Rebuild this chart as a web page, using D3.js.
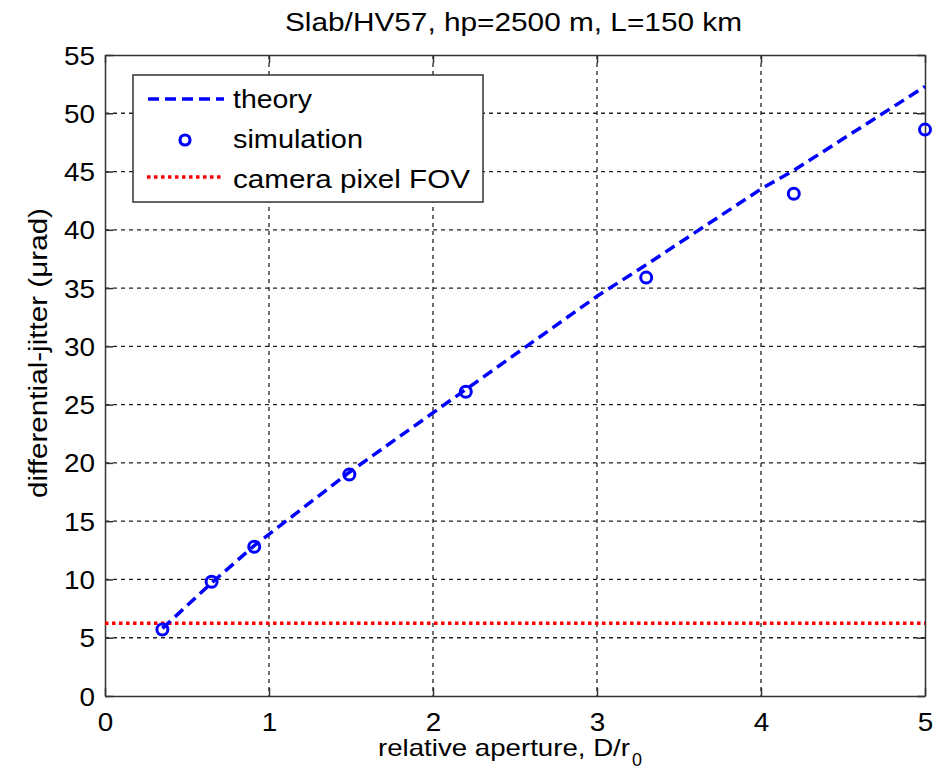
<!DOCTYPE html>
<html><head><meta charset="utf-8">
<script src="https://cdn.jsdelivr.net/npm/d3@7"></script>
<style>body{margin:0;background:#fff}svg{display:block}text{font-family:"Liberation Sans",Arial,sans-serif}</style>
</head><body><svg id="c" width="949" height="782"></svg>
<script>
const simX = [0.35, 0.65, 0.91, 1.49, 2.2, 3.3, 4.2, 5.0];
const simY = [5.7, 9.8, 12.8, 19.0, 26.1, 35.9, 43.1, 48.6];
const theoryX = [0.35, 0.65, 0.91, 1.49, 2.2, 3.0, 3.3, 4.0, 4.2, 5.0];
const theoryY = [5.8, 9.7, 12.9, 19.2, 26.3, 34.3, 37.0, 43.5, 45.1, 52.3];
const fovY = 6.25;
const xTicks = [0, 1, 2, 3, 4, 5];
const yTicks = [0, 5, 10, 15, 20, 25, 30, 35, 40, 45, 50, 55];
const legendLabels = ["theory", "simulation", "camera pixel FOV"];

const FF = '"Liberation Sans",Arial,sans-serif';
const svg = d3.select("#c");
const L = 105, R = 925, T = 55, B = 696;
const x = d3.scaleLinear().domain([0, 5]).range([L, R]);
const y = d3.scaleLinear().domain([0, 55]).range([B, T]);

// grid
const g = svg.append("g");
g.selectAll(".vg").data(xTicks.slice(1, -1)).enter().append("line")
  .attr("x1", d => x(d)).attr("x2", d => x(d)).attr("y1", T).attr("y2", B)
  .attr("stroke", "#222").attr("stroke-width", 1.3).attr("stroke-dasharray", "4,4");
g.selectAll(".hg").data(yTicks.slice(1, -1)).enter().append("line")
  .attr("x1", L).attr("x2", R).attr("y1", d => y(d)).attr("y2", d => y(d))
  .attr("stroke", "#222").attr("stroke-width", 1.3).attr("stroke-dasharray", "4,4");

// axes (inward ticks)
const fmt = d3.format("d");
const xb = svg.append("g").attr("transform", `translate(0,${B})`)
  .call(d3.axisBottom(x).tickValues(xTicks).tickFormat(fmt).tickSizeInner(-8).tickSizeOuter(0).tickPadding(17));
const xt = svg.append("g").attr("transform", `translate(0,${T})`)
  .call(d3.axisTop(x).tickValues(xTicks).tickSizeInner(-8).tickSizeOuter(0).tickFormat(""));
const yl = svg.append("g").attr("transform", `translate(${L},0)`)
  .call(d3.axisLeft(y).tickValues(yTicks).tickFormat(fmt).tickSizeInner(-8).tickSizeOuter(0).tickPadding(10));
const yr = svg.append("g").attr("transform", `translate(${R},0)`)
  .call(d3.axisRight(y).tickValues(yTicks).tickSizeInner(-8).tickSizeOuter(0).tickFormat(""));
[xb, xt, yl, yr].forEach(a => {
  a.attr("font-size", null).attr("font-family", null);
  a.selectAll("path").attr("stroke", "#333").attr("stroke-width", 1.5);
  a.selectAll("line").attr("stroke", "#333").attr("stroke-width", 1.5);
  a.selectAll("text").attr("font-size", 25).attr("fill", "#000")
    .style("font-family", FF)
    .attr("textLength", function () { return this.textContent.length * 15.5; })
    .attr("lengthAdjust", "spacingAndGlyphs");
});
yl.selectAll("text").attr("dy", "0.36em");
xb.selectAll("text").attr("dy", "0.71em");

// red FOV line
svg.append("line").attr("x1", L).attr("x2", R).attr("y1", y(fovY)).attr("y2", y(fovY))
  .attr("stroke", "#ff0000").attr("stroke-width", 3.5).attr("stroke-dasharray", "3.5,3.5");

// theory line
const line = d3.line().x(d => x(d[0])).y(d => y(d[1]));
svg.append("path").datum(theoryX.map((v, i) => [v, theoryY[i]])).attr("d", line)
  .attr("fill", "none").attr("stroke", "#0000ff").attr("stroke-width", 3.5).attr("stroke-dasharray", "11,6");

// simulation points
svg.selectAll(".pt").data(simX.map((v, i) => [v, simY[i]])).enter().append("circle")
  .attr("cx", d => x(d[0])).attr("cy", d => y(d[1])).attr("r", 5.5)
  .attr("fill", "none").attr("stroke", "#0000ff").attr("stroke-width", 3);

// legend
const lg = svg.append("g");
lg.append("rect").attr("x", 133).attr("y", 75).attr("width", 350).attr("height", 127)
  .attr("fill", "#fff").attr("stroke", "#333").attr("stroke-width", 1.5);
const ly = [99, 140, 177];
const lw = [79, 130, 237];
lg.append("line").attr("x1", 148).attr("x2", 224).attr("y1", ly[0]).attr("y2", ly[0])
  .attr("stroke", "#0000ff").attr("stroke-width", 3.5).attr("stroke-dasharray", "11,6");
lg.append("circle").attr("cx", 185).attr("cy", ly[1]).attr("r", 5)
  .attr("fill", "none").attr("stroke", "#0000ff").attr("stroke-width", 3.2);
lg.append("line").attr("x1", 147).attr("x2", 224).attr("y1", ly[2]).attr("y2", ly[2])
  .attr("stroke", "#ff0000").attr("stroke-width", 3.5).attr("stroke-dasharray", "3.5,3.5");
lg.selectAll(".lt").data(legendLabels).enter().append("text")
  .attr("x", 233).attr("y", (d, i) => [108, 148, 188][i]).attr("font-size", 25)
  .attr("textLength", (d, i) => lw[i]).attr("lengthAdjust", "spacingAndGlyphs").text(d => d);

// title and axis labels
svg.append("text").attr("x", 513.5).attr("y", 31).attr("text-anchor", "middle")
  .attr("font-size", 26).attr("textLength", 457).attr("lengthAdjust", "spacingAndGlyphs")
  .text("Slab/HV57, hp=2500 m, L=150 km");
svg.append("text").attr("x", 378).attr("y", 756).attr("font-size", 24)
  .attr("textLength", 252).attr("lengthAdjust", "spacingAndGlyphs")
  .text("relative aperture, D/r");
svg.append("text").attr("x", 632).attr("y", 766).attr("font-size", 18)
  .attr("textLength", 10).attr("lengthAdjust", "spacingAndGlyphs").text("0");
svg.append("text").attr("transform", `translate(47,353) rotate(-90)`)
  .attr("text-anchor", "middle").attr("font-size", 25)
  .attr("textLength", 290).attr("lengthAdjust", "spacingAndGlyphs")
  .text("differential-jitter (μrad)");
</script></body></html>
